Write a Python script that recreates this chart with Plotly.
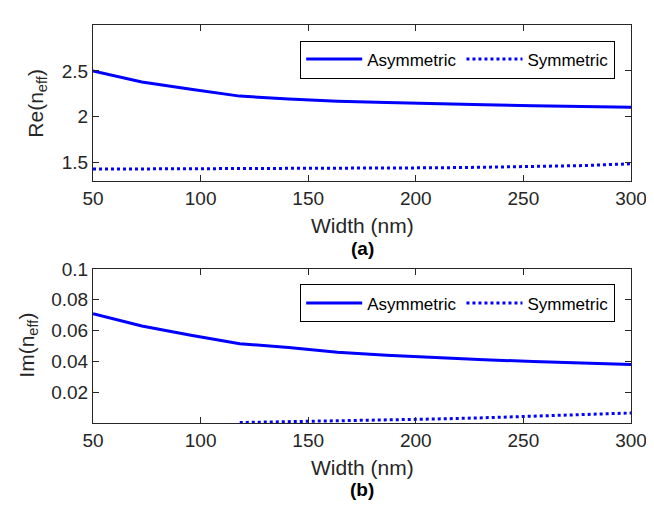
import plotly.graph_objects as go

width_nm = [50, 72.7, 95.5, 118.2, 140.9, 163.6, 186.4, 209.1, 231.8, 254.5, 277.3, 300]
re_asym = [2.50, 2.38, 2.30, 2.225, 2.195, 2.17, 2.155, 2.14, 2.13, 2.12, 2.112, 2.105]
re_sym = [1.430, 1.431, 1.432, 1.433, 1.435, 1.437, 1.440, 1.444, 1.450, 1.458, 1.468, 1.488]
im_asym = [0.071, 0.063, 0.057, 0.0515, 0.049, 0.046, 0.044, 0.0425, 0.041, 0.040, 0.039, 0.038]
im_sym = [None, None, None, 0.0003, 0.0008, 0.0013, 0.0019, 0.0026, 0.0034, 0.0043, 0.0053, 0.0065]
x_ticks = [50, 100, 150, 200, 250, 300]
re_ticks = [1.5, 2, 2.5]
im_ticks = [0.02, 0.04, 0.06, 0.08, 0.1]
im_tick_text = ["0.02", "0.04", "0.06", "0.08", "0.1"]

BLUE = "#0000FF"
FONT = "Liberation Sans, Arial, sans-serif"
GRAY = "#262626"

fig = go.Figure()
fig.add_trace(go.Scatter(x=width_nm, y=re_asym, mode="lines", name="Asymmetric",
                         line=dict(color=BLUE, width=3), xaxis="x", yaxis="y", legend="legend"))
fig.add_trace(go.Scatter(x=width_nm, y=re_sym, mode="lines", name="Symmetric",
                         line=dict(color=BLUE, width=3, dash="dot"), xaxis="x", yaxis="y", legend="legend"))
fig.add_trace(go.Scatter(x=width_nm, y=im_asym, mode="lines", name="Asymmetric",
                         line=dict(color=BLUE, width=3), xaxis="x2", yaxis="y2", legend="legend2"))
fig.add_trace(go.Scatter(x=width_nm, y=im_sym, mode="lines", name="Symmetric",
                         line=dict(color=BLUE, width=3, dash="dot"), xaxis="x2", yaxis="y2", legend="legend2"))

axis_common = dict(showline=True, linecolor=GRAY, linewidth=1, mirror="ticks",
                   ticks="inside", ticklen=6, tickcolor=GRAY, showgrid=False, zeroline=False,
                   tickfont=dict(family=FONT, size=19, color=GRAY))

top_dom = [0.608, 1.0]
bot_dom = [0.0, 0.387]

legend_common = dict(orientation="h", x=0.9706, xanchor="right", yanchor="top",
                     bordercolor="black", borderwidth=1, bgcolor="white",
                     font=dict(family=FONT, size=17, color="black"), itemwidth=56,
                     tracegroupgap=0)

fig.update_layout(
    width=646, height=497,
    margin=dict(l=85, r=17, t=7, b=82),
    paper_bgcolor="white", plot_bgcolor="white",
    font=dict(family=FONT, size=16, color=GRAY),
    xaxis=dict(domain=[0, 1], anchor="y", range=[50, 300], tickvals=x_ticks, **axis_common),
    yaxis=dict(domain=top_dom, anchor="x", range=[1.3, 3.0], tickvals=re_ticks, **axis_common),
    xaxis2=dict(domain=[0, 1], anchor="y2", range=[50, 300], tickvals=x_ticks, **axis_common),
    yaxis2=dict(domain=bot_dom, anchor="x2", range=[0, 0.1], tickvals=im_ticks,
                ticktext=im_tick_text, **axis_common),
    legend=dict(y=0.961, **legend_common),
    legend2=dict(y=0.348, **legend_common),
    annotations=[
        dict(text="Width (nm)", xref="paper", yref="paper", x=0.5, y=(423 - 221) / 408,
             xanchor="center", yanchor="middle", showarrow=False, font=dict(size=21, color=GRAY)),
        dict(text="<b>(a)</b>", xref="paper", yref="paper", x=0.5, y=(423 - 244) / 408,
             xanchor="center", yanchor="middle", showarrow=False, font=dict(size=19, color="black")),
        dict(text="Width (nm)", xref="paper", yref="paper", x=0.5, y=(423 - 469) / 408,
             xanchor="center", yanchor="middle", showarrow=False, font=dict(size=21, color=GRAY)),
        dict(text="<b>(b)</b>", xref="paper", yref="paper", x=0.5, y=(423 - 491) / 408,
             xanchor="center", yanchor="middle", showarrow=False, font=dict(size=19, color="black")),
        dict(text="Re(n<sub>eff</sub>)", xref="paper", yref="paper", x=(36 - 93) / 544, y=(423 - 95) / 408,
             xanchor="center", yanchor="middle", showarrow=False, textangle=-90, font=dict(size=21, color=GRAY)),
        dict(text="Im(n<sub>eff</sub>)", xref="paper", yref="paper", x=(27 - 93) / 544, y=(423 - 343) / 408,
             xanchor="center", yanchor="middle", showarrow=False, textangle=-90, font=dict(size=21, color=GRAY)),
    ],
)

fig.write_html("out.html")
